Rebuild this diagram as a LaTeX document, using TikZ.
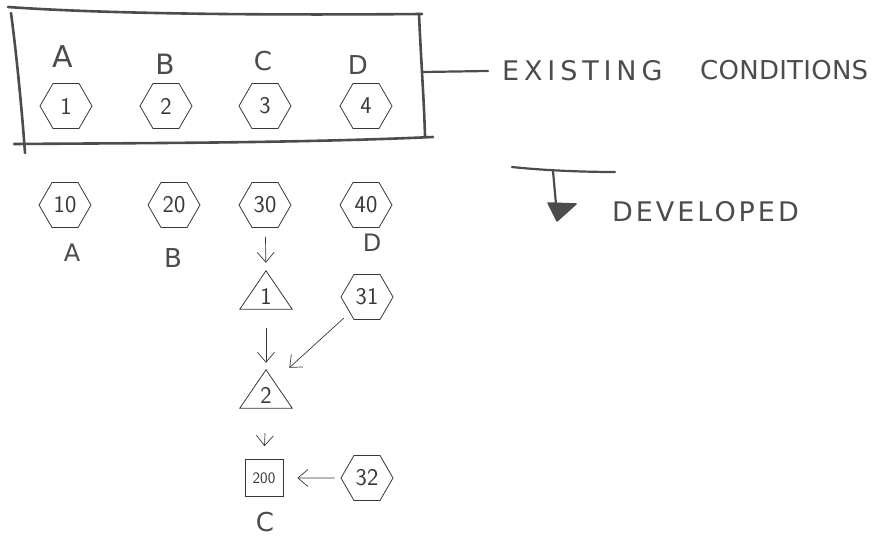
\documentclass[tikz,border=0pt]{standalone}
\usepackage{fontspec}
\usetikzlibrary{shapes.geometric,arrows.meta}
\newfontfamily\handfont{DejaVu Sans}
\definecolor{pencil}{gray}{0.30}
\definecolor{ink}{gray}{0.22}
\tikzset{
  hexnode/.style={draw=ink, line width=0.8pt, regular polygon, regular polygon sides=6,
    minimum size=52pt, inner sep=0pt, font=\sffamily\fontsize{24}{24}\selectfont, text=ink},
  trinode/.style={minimum width=52pt, minimum height=38pt, inner sep=0pt,
    text height=29pt, text depth=0pt, font=\sffamily\fontsize{24}{24}\selectfont, text=ink},
  sqnode/.style={draw=ink, line width=0.8pt, minimum width=38pt, minimum height=37pt,
    inner sep=0pt, font=\sffamily\fontsize{16}{16}\selectfont, text=ink},
  flow/.style={draw=ink, line width=0.7pt, -{Straight Barb[length=10pt,width=17pt,line width=0.7pt]}},
  outline/.style={draw=ink, line width=0.8pt, line join=miter},
  hand/.style={draw=pencil, line width=2.6pt, line cap=round, line join=round},
  handlabel/.style={inner sep=0pt, text=pencil, font=\handfont\fontsize{#1}{#1}\selectfont},
  handlabel/.default=27,
}
\begin{document}
\begin{tikzpicture}[x=1pt, y=-1pt]
\useasboundingbox (0,0) rectangle (871,540);

% sketched frame round the existing conditions
\draw[hand] (8,7) .. controls (120,15) and (300,15) .. (422,14);
\draw[hand] (11,13) .. controls (16,50) and (22,110) .. (25,153);
\draw[hand] (419,14) .. controls (421,60) and (424,100) .. (425,136);
\draw[hand] (14,144) .. controls (150,143) and (300,143) .. (433,137);

% existing conditions
\node[hexnode] (h1) at (66,106) {1};
\node[hexnode] (h2) at (166,106) {2};
\node[hexnode] (h3) at (265,106) {3};
\node[hexnode] (h4) at (366,106) {4};
\node[handlabel=30] (lA) at (63,57) {A};
\node[handlabel=28] (lB) at (165,64) {B};
\node[handlabel=26] (lC) at (263,61) {C};
\node[handlabel=26] (lD) at (358,65) {D};

% legend
\coordinate (frameR) at (423,72);
\node[handlabel, anchor=west] (tExist) at (502,71) {\addfontfeature{LetterSpace=18}EXISTING};
\node[handlabel=26, anchor=west] (tCond) at (700,70) {\addfontfeature{LetterSpace=1}CONDITIONS};
\draw[hand, line width=2.2pt] (frameR) -- (488,71);

\coordinate (devL) at (512,167);
\coordinate (devR) at (615,172);
\coordinate (devJ) at (553,171);
\coordinate (devT) at (556,204);
\draw[hand, line width=2.2pt] (devL) .. controls (550,171) and (590,172) .. (devR);
\draw[hand, line width=2.2pt] (devJ) -- (devT);
\fill[pencil, draw=pencil, line width=1.5pt, line join=round]
  (548,203) -- (576,204) -- (557,221) -- cycle;
\node[handlabel, anchor=west] (tDev) at (612,212) {\addfontfeature{LetterSpace=11}DEVELOPED};

% developed conditions
\node[hexnode] (h10) at (65,205) {10};
\node[hexnode] (h20) at (174,205) {20};
\node[hexnode] (h30) at (265,205) {30};
\node[hexnode] (h40) at (366,205) {40};
\node[handlabel=24] (dA) at (72,253) {A};
\node[handlabel=26] (dB) at (173,258) {B};
\node[handlabel=24] (dD) at (372,243) {D};

\node[trinode] (t1) at (266,290) {1};
\node[trinode] (t2) at (266,389) {2};
\draw[outline] (t1.south west) -- (t1.south east) -- (t1.north) -- cycle;
\draw[outline] (t2.south west) -- (t2.south east) -- (t2.north) -- cycle;

\node[hexnode] (h31) at (367,297) {31};
\node[sqnode] (s200) at (264,478) {200};
\node[hexnode] (h32) at (367,478) {32};
\node[handlabel=26] (dC) at (265,522) {C};

\draw[flow, shorten <=9pt, shorten >=8pt] (h30) -- (t1.north);
\draw[flow, shorten <=19pt, shorten >=7pt] (t1.south) -- (t2.north);
\draw[flow, shorten <=8pt, shorten >=3pt] (h31) -- (t2);
\draw[flow, shorten <=25pt, shorten >=13pt] (t2.south) -- (s200.north);
\draw[flow, shorten <=6pt, shorten >=14pt] (h32) -- (s200);
\end{tikzpicture}
\end{document}
